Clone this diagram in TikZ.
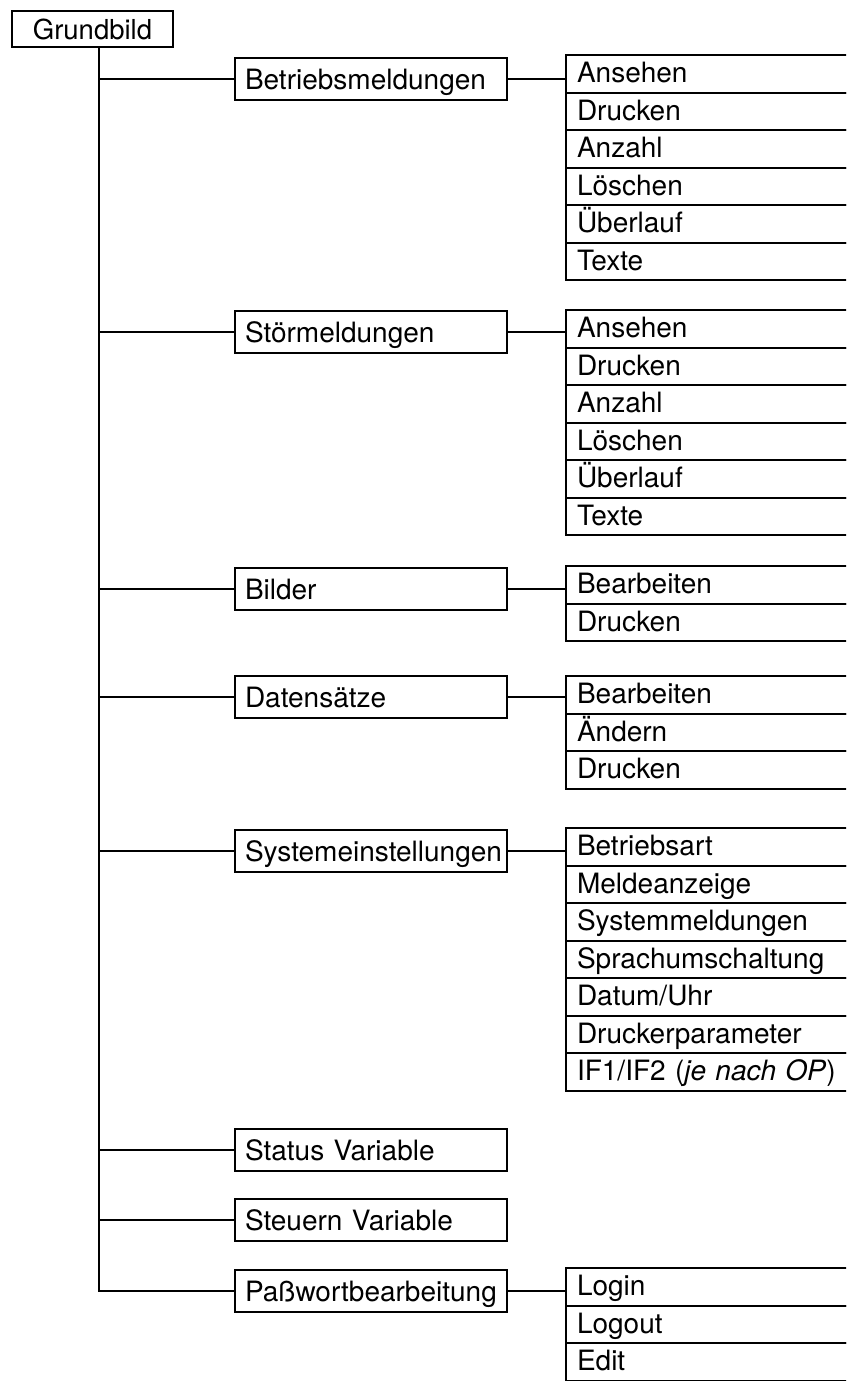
\documentclass[tikz,border=0pt]{standalone}
\usepackage{fontspec}
\setmainfont{TeX Gyre Heros}
\usetikzlibrary{positioning}

\tikzset{
  line/.style={line width=2pt},
  root/.style={draw, line width=2pt, minimum width=161pt, minimum height=36pt, outer sep=0pt,
    font=\fontsize{27.5}{33}\selectfont},
  menu/.style={draw, line width=2pt, minimum height=42pt, text width=252pt, inner xsep=10pt,
    text height=23pt, text depth=3pt, align=left, anchor=west, outer sep=0pt,
    font=\fontsize{28}{33}\selectfont},
  item/.style={draw, line width=2pt, minimum height=37.5pt, text width=300pt, inner xsep=11pt,
    text height=22pt, text depth=4pt, align=left, anchor=north west, outer sep=0pt,
    font=\fontsize{28}{33}\selectfont},
}

\begin{document}
\begin{tikzpicture}[x=1pt, y=-1pt]
  \useasboundingbox (0,0) rectangle (846,1381);
  \clip (0,0) rectangle (846,1381); % sub lists run past the right edge

  \node[root] (grund) at (92.5,29) {Grundbild};
  \coordinate (stem) at (99,47); % trunk under Grundbild

  % second level
  \node[menu] (bm) at (235,79) {Betriebsmeldungen};
  \node[menu] (sm) at (235,332) {Störmeldungen};
  \node[menu] (bi) at (235,589) {Bilder};
  \node[menu] (ds) at (235,697) {Datensätze};
  \node[menu] (se) at (235,851) {Systemeinstellungen};
  \node[menu] (sv) at (235,1150) {Status Variable};
  \node[menu] (st) at (235,1220) {Steuern Variable};
  \node[menu] (pw) at (235,1291) {Paßwortbearbeitung};

  % Betriebsmeldungen
  \node[item] (bm1) at (566,55) {Ansehen};
  \node[item, below=0pt of bm1] (bm2) {Drucken};
  \node[item, below=0pt of bm2] (bm3) {Anzahl};
  \node[item, below=0pt of bm3] (bm4) {Löschen};
  \node[item, below=0pt of bm4] (bm5) {Überlauf};
  \node[item, below=0pt of bm5] (bm6) {Texte};

  % Stoermeldungen
  \node[item] (sm1) at (566,310) {Ansehen};
  \node[item, below=0pt of sm1] (sm2) {Drucken};
  \node[item, below=0pt of sm2] (sm3) {Anzahl};
  \node[item, below=0pt of sm3] (sm4) {Löschen};
  \node[item, below=0pt of sm4] (sm5) {Überlauf};
  \node[item, below=0pt of sm5] (sm6) {Texte};

  % Bilder
  \node[item] (bi1) at (566,566) {Bearbeiten};
  \node[item, below=0pt of bi1] (bi2) {Drucken};

  % Datensaetze
  \node[item] (ds1) at (566,676) {Bearbeiten};
  \node[item, below=0pt of ds1] (ds2) {Ändern};
  \node[item, below=0pt of ds2] (ds3) {Drucken};

  % Systemeinstellungen
  \node[item] (se1) at (566,828) {Betriebsart};
  \node[item, below=0pt of se1] (se2) {Meldeanzeige};
  \node[item, below=0pt of se2] (se3) {Systemmeldungen};
  \node[item, below=0pt of se3] (se4) {Sprachumschaltung};
  \node[item, below=0pt of se4] (se5) {Datum/Uhr};
  \node[item, below=0pt of se5] (se6) {Druckerparameter};
  \node[item, below=0pt of se6] (se7) {IF1/IF2 (\textit{je nach OP})};

  % Passwortbearbeitung
  \node[item] (pw1) at (566,1268) {Login};
  \node[item, below=0pt of pw1] (pw2) {Logout};
  \node[item, below=0pt of pw2] (pw3) {Edit};

  % trunk and branches
  \draw[line] (stem) -- (stem |- pw.west);
  \draw[line] (stem) |- (bm.west);
  \draw[line] (stem) |- (sm.west);
  \draw[line] (stem) |- (bi.west);
  \draw[line] (stem) |- (ds.west);
  \draw[line] (stem) |- (se.west);
  \draw[line] (stem) |- (sv.west);
  \draw[line] (stem) |- (st.west);
  \draw[line] (stem) |- (pw.west);

  % links to the sub lists
  \draw[line] (bm.east) -- (bm.east -| bm1.west);
  \draw[line] (sm.east) -- (sm.east -| sm1.west);
  \draw[line] (bi.east) -- (bi.east -| bi1.west);
  \draw[line] (ds.east) -- (ds.east -| ds1.west);
  \draw[line] (se.east) -- (se.east -| se1.west);
  \draw[line] (pw.east) -- (pw.east -| pw1.west);
\end{tikzpicture}
\end{document}
